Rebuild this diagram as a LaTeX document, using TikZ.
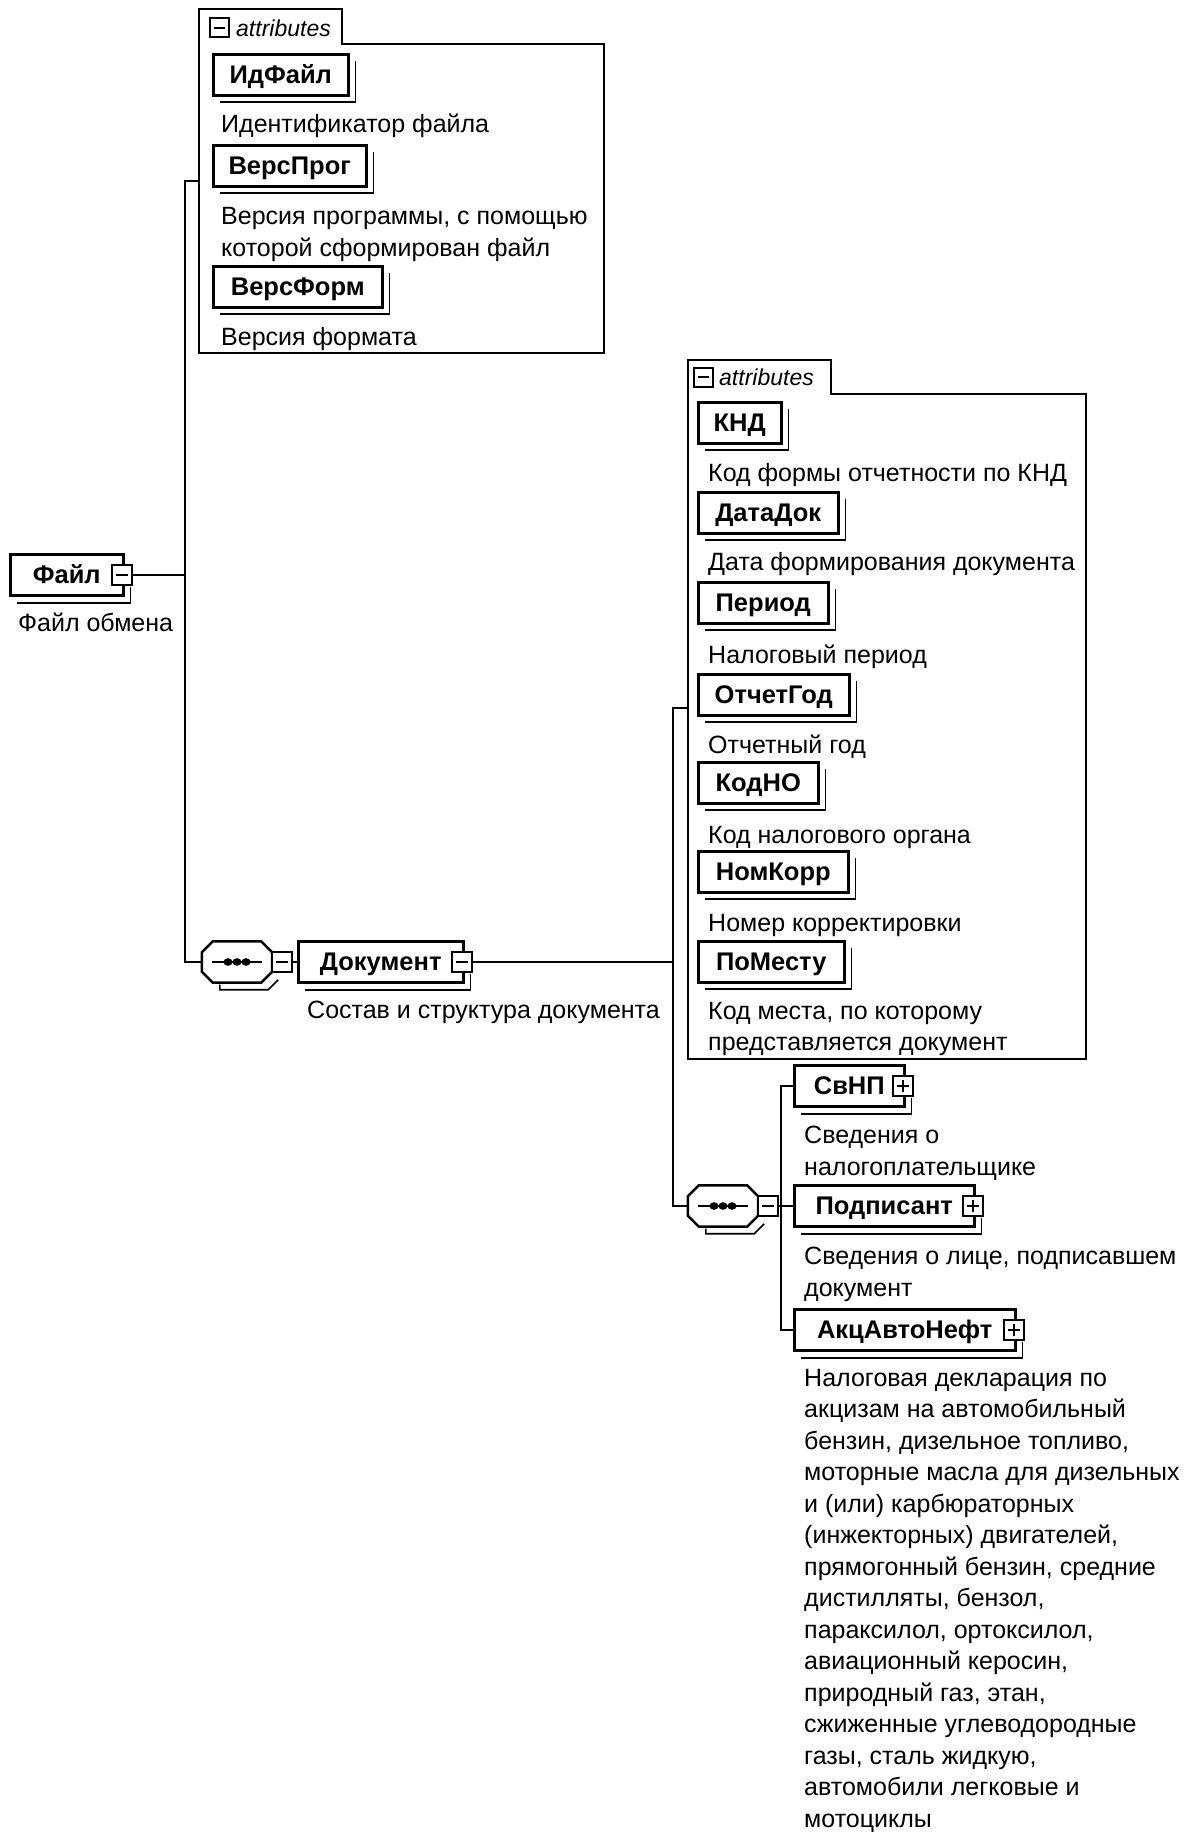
\documentclass[tikz,border=0pt]{standalone}
\usepackage{fontspec}
\setmainfont{Liberation Sans}
\newcommand\octagonshape[1]{%
  \draw[line width=2.5pt] ([yshift=-11pt]#1.north west) -- ([xshift=11pt]#1.north west) -- ([xshift=-11pt]#1.north east) -- ([yshift=-11pt]#1.north east) -- ([yshift=11pt]#1.south east) -- ([xshift=-11pt]#1.south east) -- ([xshift=11pt]#1.south west) -- ([yshift=11pt]#1.south west) -- cycle;
  \draw[line width=2.5pt] ([xshift=10pt]#1.west) -- ([xshift=-10pt]#1.east);
  \foreach \dd in {-9,0,9} \fill ([xshift=\dd pt]#1.center) ellipse (4.5pt and 3.8pt);
  \draw[shadowline] ([xshift=18pt,yshift=-2pt]#1.south west) -- ([xshift=18pt,yshift=-7pt]#1.south west) -- ([xshift=-4pt,yshift=-7pt]#1.south east) -- ([xshift=6pt,yshift=3pt]#1.south east);}
\newcommand\shadplain[1]{%
  \draw[shadowline] ([xshift=8pt,yshift=-5pt]#1.south west) -- ([xshift=6pt,yshift=-5pt]#1.south east) -- ([xshift=6pt,yshift=-8pt]#1.north east);}
\newcommand\shadsq[1]{%
  \draw[shadowline] ([xshift=8pt,yshift=-6pt]#1.south west) -- ([xshift=6pt,yshift=-6pt]#1.south east) -- ([xshift=6pt,yshift=10pt]#1.south east);}
\begin{document}
\begin{tikzpicture}[x=1pt,y=-1pt,
  conn/.style={line width=2.5pt},
  grp/.style={line width=2.5pt},
  shadowline/.style={line width=1.6pt},
  elem/.style={draw, line width=2.5pt, rectangle, minimum height=41pt, inner sep=0pt, text height=18pt, text depth=1pt, anchor=west, font=\fontsize{25.5}{30}\selectfont\bfseries},
  desc/.style={anchor=base west, inner sep=0pt, align=left, font=\fontsize{25}{31.5}\selectfont},
  desctight/.style={desc, font=\fontsize{25}{30.5}\selectfont},
  tabtxt/.style={anchor=west, inner sep=0pt, font=\fontsize{23}{26}\selectfont\itshape},
  sqbase/.style={draw, line width=2pt, fill=white, minimum size=20pt, inner sep=0pt},
  sqminus/.style={sqbase, path picture={\draw[line width=2pt] ([xshift=4pt]path picture bounding box.west) -- ([xshift=-4pt]path picture bounding box.east);}},
  sqplus/.style={sqbase, path picture={\draw[line width=2pt] ([xshift=4pt]path picture bounding box.west) -- ([xshift=-4pt]path picture bounding box.east) ([yshift=-4pt]path picture bounding box.north) -- ([yshift=4pt]path picture bounding box.south);}},
  tabsq/.style={sqminus, minimum size=19pt},
  seqn/.style={rectangle, minimum width=70pt, minimum height=41pt, inner sep=0pt}
]
\fill[white] (0,0) rectangle (1194,1836);
\useasboundingbox (0,0) rectangle (1194,1836);

% ---- root
\node[elem, minimum width=113pt] (fajl) at (9,575) {Файл};
\shadsq{fajl}
\node[desc] (fajld) at (18,631) {Файл обмена};

% ---- attributes group 1
\draw[grp] (199,44) -- (199,9) -- (342,9) -- (342,44) -- (604,44) -- (604,353) -- (199,353) -- cycle;
\node[tabsq] (t1m) at (219,28) {};
\node[tabtxt] (t1) at (236,28) {attributes};
\node[elem, minimum width=135pt] (idf) at (212,75) {ИдФайл};
\shadplain{idf}
\node[desc] (idfd) at (221,132) {Идентификатор файла};
\node[elem, minimum width=153pt] (vp) at (212,166) {ВерсПрог};
\shadplain{vp}
\node[desc] (vpd) at (221,256) {Версия программы, с помощью\\которой сформирован файл};
\node[elem, minimum width=169pt] (vf) at (212,287) {ВерсФорм};
\shadplain{vf}
\node[desc] (vfd) at (221,345) {Версия формата};

% ---- sequence 1 and Документ
\node[seqn] (seq1) at (237,962) {};
\octagonshape{seq1}
\node[elem, minimum width=165pt] (doc) at (297,962) {Документ};
\shadsq{doc}
\node[desc] (docd) at (307,1018) {Состав и структура документа};

% ---- attributes group 2
\draw[grp] (688,394) -- (688,360) -- (831,360) -- (831,394) -- (1086,394) -- (1086,1059) -- (688,1059) -- cycle;
\node[tabsq] (t2m) at (703,377) {};
\node[tabtxt] (t2) at (719,377) {attributes};
\node[elem, minimum width=83pt] (knd) at (697,423) {КНД};
\shadplain{knd}
\node[desc] (kndd) at (708,481) {Код формы отчетности по КНД};
\node[elem, minimum width=140pt] (dd) at (697,513) {ДатаДок};
\shadplain{dd}
\node[desc] (ddd) at (708,570) {Дата формирования документа};
\node[elem, minimum width=130pt] (per) at (697,603) {Период};
\shadplain{per}
\node[desc] (perd) at (708,663) {Налоговый период};
\node[elem, minimum width=151pt] (og) at (697,695) {ОтчетГод};
\shadplain{og}
\node[desc] (ogd) at (708,753) {Отчетный год};
\node[elem, minimum width=120pt] (kno) at (697,783) {КодНО};
\shadplain{kno}
\node[desc] (knod) at (708,843) {Код налогового органа};
\node[elem, minimum width=150pt] (nk) at (697,872) {НомКорр};
\shadplain{nk}
\node[desc] (nkd) at (708,931) {Номер корректировки};
\node[elem, minimum width=146pt] (pm) at (697,962) {ПоМесту};
\shadplain{pm}
\node[desctight] (pmd) at (708,1050) {Код места, по которому\\представляется документ};

% ---- sequence 2 and children
\node[seqn] (seq2) at (723,1206) {};
\octagonshape{seq2}
\node[elem, minimum width=110pt] (svnp) at (793,1086) {СвНП};
\shadsq{svnp}
\node[desc] (svnpd) at (804,1175) {Сведения о\\налогоплательщике};
\node[elem, minimum width=180pt] (podp) at (793,1206) {Подписант};
\shadsq{podp}
\node[desc] (podpd) at (804,1296) {Сведения о лице, подписавшем\\документ};
\node[elem, minimum width=221pt] (akc) at (793,1330) {АкцАвтоНефт};
\shadsq{akc}
\node[desc] (akcd) at (804,1827) {Налоговая декларация по\\
акцизам на автомобильный\\
бензин, дизельное топливо,\\
моторные масла для дизельных\\
и (или) карбюраторных\\
(инжекторных) двигателей,\\
прямогонный бензин, средние\\
дистилляты, бензол,\\
параксилол, ортоксилол,\\
авиационный керосин,\\
природный газ, этан,\\
сжиженные углеводородные\\
газы, сталь жидкую,\\
автомобили легковые и\\
мотоциклы};

% ---- connectors
\coordinate (j1) at (185,575);
\coordinate (a1in) at (199,181);
\coordinate (j2) at (673,962);
\coordinate (a2in) at (688,708);
\coordinate (j3) at (781,1206);
\draw[conn] (fajl.east) -- (j1);
\draw[conn] (a1in) -| (j1) |- (seq1.west);
\draw[conn] (seq1.east) -- (doc.west);
\draw[conn] (doc.east) -- (j2);
\draw[conn] (a2in) -| (j2) |- (seq2.west);
\draw[conn] (seq2.east) -- (podp.west);
\draw[conn] (svnp.west) -| (j3) |- (akc.west);

% ---- expand/collapse squares
\node[sqminus] (fajlm) at (122,575) {};
\node[sqminus] (seq1m) at (282,962) {};
\node[sqminus] (docm) at (462,962) {};
\node[sqminus] (seq2m) at (768,1206) {};
\node[sqplus] (svnpp) at (903,1086) {};
\node[sqplus] (podpp) at (973,1206) {};
\node[sqplus] (akcp) at (1014,1330) {};
\end{tikzpicture}
\end{document}
